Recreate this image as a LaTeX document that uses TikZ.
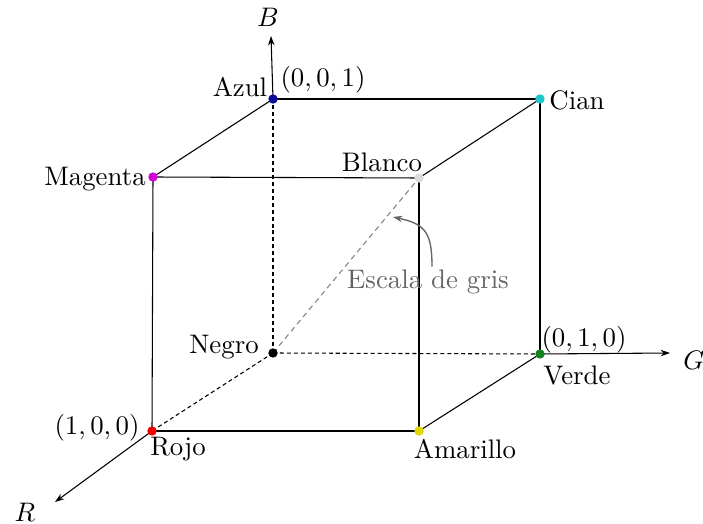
\documentclass[tikz,border=0pt]{standalone}
\usetikzlibrary{arrows.meta}
\definecolor{cazul}{RGB}{10,10,150}
\definecolor{ccian}{RGB}{30,200,200}
\definecolor{cverde}{RGB}{20,130,30}
\definecolor{crojo}{RGB}{240,0,0}
\definecolor{cmagenta}{RGB}{210,0,210}
\definecolor{cblanco}{RGB}{220,220,220}
\definecolor{camarillo}{RGB}{225,215,0}
\definecolor{cgris}{RGB}{100,100,100}
\begin{document}
\begin{tikzpicture}[x=0.373pt,y=-0.373pt,
  edge/.style={line width=0.4pt},
  hidden/.style={line width=0.4pt,dash pattern=on 1.5pt off 1.1pt},
  axis/.style={line width=0.4pt,-{Stealth[length=3.5pt,width=2.4pt]}},
  dot/.style={circle,inner sep=0pt,minimum size=3.5pt},
  lbl/.style={inner sep=1pt}]
\useasboundingbox (0,0) rectangle (703,524);
\coordinate (N) at (273,353);
\coordinate (A) at (273,99);
\coordinate (C) at (540,99);
\coordinate (V) at (540,354);
\coordinate (Ro) at (152,431);
\coordinate (M) at (153,177);
\coordinate (Bl) at (419,178);
\coordinate (Am) at (419,431);
\coordinate (Bt) at (271,36);
\coordinate (Gt) at (670,353);
\coordinate (Rt) at (55,502);
% axes
\draw[axis] (A) -- (Bt);
\draw[axis] (V) -- (Gt);
\draw[axis] (Ro) -- (Rt);
% hidden edges
\draw[hidden] (N) -- (A);
\draw[hidden] (N) -- (V);
\draw[hidden] (N) -- (Ro);
\draw[hidden,cgris!80,dash pattern=on 2pt off 1.5pt] (N) -- (Bl);
% visible edges
\draw[edge] (A) -- (C);
\draw[edge] (A) -- (M);
\draw[edge] (M) -- (Bl);
\draw[edge] (Bl) -- (C);
\draw[edge] (M) -- (Ro);
\draw[edge] (Bl) -- (Am);
\draw[edge] (C) -- (V);
\draw[edge] (Ro) -- (Am);
\draw[edge] (Am) -- (V);
% dots
\node[dot,fill=black] (Ndot) at (N) {};
\node[dot,fill=cazul] (Adot) at (A) {};
\node[dot,fill=ccian] (Cdot) at (C) {};
\node[dot,fill=cverde] (Vdot) at (V) {};
\node[dot,fill=crojo] (Rodot) at (Ro) {};
\node[dot,fill=cmagenta] (Mdot) at (M) {};
\node[dot,fill=cblanco] (Bldot) at (Bl) {};
\node[dot,fill=camarillo] (Amdot) at (Am) {};
% labels
\node[lbl] (lB) at (268,17) {$B$};
\node[lbl] (lG) at (694,360) {$G$};
\node[lbl] (lR) at (25,512) {$R$};
\node[lbl] (lAzul) at (240,87) {Azul};
\node[lbl] (lA) at (323,80) {$(0,0,1)$};
\node[lbl] (lCian) at (577,100) {Cian};
\node[lbl] (lMag) at (95,179) {Magenta};
\node[lbl] (lBl) at (382,162) {Blanco};
\node[lbl] (lNeg) at (224,347) {Negro};
\node[lbl] (lRo1) at (97,428) {$(1,0,0)$};
\node[lbl] (lRojo) at (178,449) {Rojo};
\node[lbl] (lAm) at (465,449) {Amarillo};
\node[lbl] (lV1) at (584,340) {$(0,1,0)$};
\node[lbl] (lV) at (577,375) {Verde};
\node[lbl,text=cgris] (lGris) at (428,282) {Escala de gris};
\coordinate (arrtip) at (393,217);
\draw[cgris,line width=0.5pt,-{Stealth[length=3.5pt,width=2.4pt]}] (lGris.north -| 432,0) .. controls (432,232) and (425,224) .. (arrtip);
\end{tikzpicture}
\end{document}
